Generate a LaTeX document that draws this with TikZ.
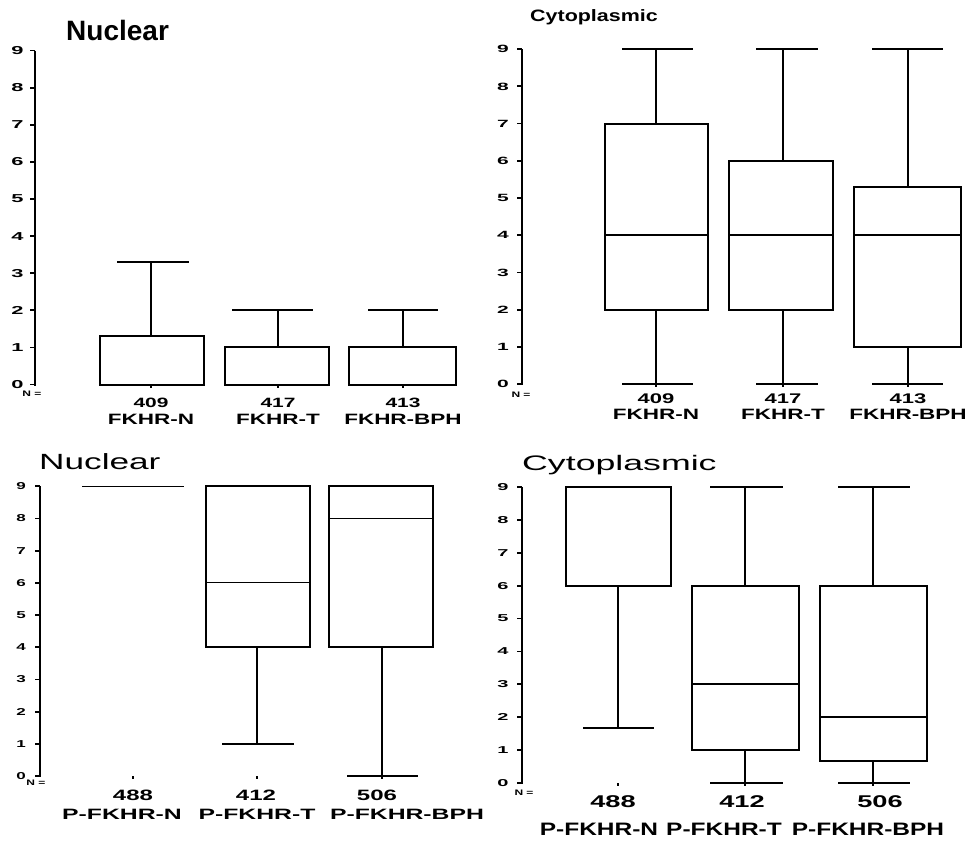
\documentclass[tikz,border=0pt]{standalone}
\usepackage{fontspec}
\setmainfont{Liberation Sans}
\newcommand\fs[1]{\fontsize{#1}{#1}\selectfont}
\newcommand\sx[2]{\scalebox{#1}[1]{#2}}
\newcommand\bpbox[4]{\draw[boxline] (#1,{\yz-#3*\dy}) rectangle (#2,{\yz-#4*\dy});}
\newcommand\bpmed[3]{\draw[medline] (#1,{\yz-#3*\dy}) -- (#2,{\yz-#3*\dy});}
\newcommand\bpwhisk[5]{\draw[whisk] (#1,{\yz-#2*\dy}) -- (#1,{\yz-#3*\dy});
  \draw[whisk] (#4,{\yz-#3*\dy}) -- (#5,{\yz-#3*\dy});}
\newcommand\cattick[1]{\draw[cattk] (#1,\yz) -- (#1,{\yz+3});}
\newcommand\yaxis[5]{% name, axis x, label x, font size, xscale
  \draw[axisline] (#2,{\yz-9*\dy}) -- (#2,{\yz+1});
  \foreach \v in {0,...,9}{
    \draw[tickline] ({#2-5},{\yz-\v*\dy}) -- (#2,{\yz-\v*\dy});
    \node[ticklab] (#1y\v) at (#3,{\yz-\v*\dy}) {\fs{#4}\sx{#5}{\v}};
  }}
\tikzset{
  boxline/.style={line width=2pt},
  whisk/.style={line width=2pt},
  medline/.style={line width=2pt},
  thinmed/.style={line width=1.3pt},
  axisline/.style={line width=2.2pt},
  tickline/.style={line width=1.8pt},
  cattk/.style={line width=1.5pt},
  ticklab/.style={inner sep=0pt, font=\bfseries},
  lab/.style={inner sep=0pt, anchor=base, font=\bfseries},
  ttl/.style={inner sep=0pt, anchor=base west},
  nlab/.style={inner sep=0pt, font=\bfseries}
}
\begin{document}
\begin{tikzpicture}[x=1pt,y=-1pt]
\fill[white] (0,0) rectangle (971,842);
\useasboundingbox (0,0) rectangle (971,842);

% ---------- Panel 1: Nuclear FKHR ----------
\def\yz{384.5}\def\dy{37.1}
\node[ttl, font=\bfseries\fs{28}] (t1) at (66,41) {Nuclear};
\yaxis{pa}{35}{17.5}{11.5}{1.9}
\bpbox{100}{204}{0}{1.3}
\bpwhisk{151}{1.3}{3.3}{117}{189}
\bpbox{225}{329}{0}{1}
\bpwhisk{278}{1}{2}{232}{313}
\bpbox{349}{456}{0}{1}
\bpwhisk{403}{1}{2}{368}{438}
\cattick{151}\cattick{278}\cattick{403}
\node[nlab] (n1) at (32,394) {\fs{8}\sx{1.5}{N =}};
\node[lab] (a1) at (151,407.5) {\fs{13.5}\sx{1.55}{409}};
\node[lab] (a2) at (278,407.5) {\fs{13.5}\sx{1.55}{417}};
\node[lab] (a3) at (403,407.5) {\fs{13.5}\sx{1.55}{413}};
\node[lab] (b1) at (151,424) {\fs{15}\sx{1.5}{FKHR-N}};
\node[lab] (b2) at (278,424) {\fs{15}\sx{1.5}{FKHR-T}};
\node[lab] (b3) at (403,424) {\fs{15}\sx{1.5}{FKHR-BPH}};

% ---------- Panel 2: Cytoplasmic FKHR ----------
\def\yz{384}\def\dy{37.2}
\node[ttl, font=\bfseries\fs{16.5}] (t2) at (530,22) {\sx{1.3}{Cytoplasmic}};
\yaxis{pb}{522}{503}{10.5}{2.0}
\bpbox{605}{708}{2}{7}
\bpmed{605}{708}{4}
\bpwhisk{656}{2}{0}{622}{693}
\bpwhisk{656}{7}{9}{622}{693}
\bpbox{729}{833}{2}{6}
\bpmed{729}{833}{4}
\bpwhisk{783}{2}{0}{756}{818}
\bpwhisk{783}{6}{9}{756}{818}
\bpbox{854}{961}{1}{5.3}
\bpmed{854}{961}{4}
\bpwhisk{908}{1}{0}{872}{943}
\bpwhisk{908}{5.3}{9}{872}{943}
\cattick{656}\cattick{783}\cattick{908}
\node[nlab] (n2) at (521,395) {\fs{8}\sx{1.5}{N =}};
\node[lab] (c1) at (656,403.5) {\fs{14}\sx{1.57}{409}};
\node[lab] (c2) at (783,403.5) {\fs{14}\sx{1.57}{417}};
\node[lab] (c3) at (908,403.5) {\fs{14}\sx{1.57}{413}};
\node[lab] (d1) at (656,419) {\fs{15}\sx{1.5}{FKHR-N}};
\node[lab] (d2) at (783,419) {\fs{15}\sx{1.5}{FKHR-T}};
\node[lab] (d3) at (908,419) {\fs{15}\sx{1.5}{FKHR-BPH}};

% ---------- Panel 3: Nuclear P-FKHR ----------
\def\yz{776}\def\dy{32.2}
\node[ttl, font=\fs{22}] (t3) at (39,469) {\sx{1.6}{Nuclear}};
\yaxis{pc}{40}{21}{10}{1.7}
\draw[thinmed] (82,{\yz-9*\dy}) -- (184,{\yz-9*\dy});
\bpbox{206}{310}{4}{9}
\draw[thinmed] (206,{\yz-6*\dy}) -- (310,{\yz-6*\dy});
\bpwhisk{257}{4}{1}{222}{294}
\bpbox{329}{433}{4}{9}
\draw[line width=1.6pt] (329,{\yz-8*\dy}) -- (433,{\yz-8*\dy});
\bpwhisk{382}{4}{0}{347}{418}
\cattick{133}\cattick{257}\cattick{382}
\node[nlab] (n3) at (36,783) {\fs{8}\sx{1.5}{N =}};
\node[lab] (e1) at (133,800.7) {\fs{15}\sx{1.6}{488}};
\node[lab] (e2) at (256,800.7) {\fs{15}\sx{1.6}{412}};
\node[lab] (e3) at (377,800.7) {\fs{15}\sx{1.6}{506}};
\node[lab] (f1) at (122,819) {\fs{15}\sx{1.65}{P-FKHR-N}};
\node[lab] (f2) at (257,819) {\fs{15}\sx{1.65}{P-FKHR-T}};
\node[lab] (f3) at (407,819) {\fs{15}\sx{1.65}{P-FKHR-BPH}};

% ---------- Panel 4: Cytoplasmic P-FKHR ----------
\def\yz{783}\def\dy{32.9}
\node[ttl, font=\fs{21}] (t4) at (522,470) {\sx{1.7}{Cytoplasmic}};
\yaxis{pd}{522}{503}{10}{2.0}
\bpbox{566}{671}{6}{9}
\bpwhisk{618}{6}{1.67}{583}{654}
\bpbox{692}{799}{1}{6}
\bpmed{692}{799}{3}
\bpwhisk{745}{1}{0}{710}{783}
\bpwhisk{745}{6}{9}{710}{783}
\bpbox{820}{927}{0.67}{6}
\bpmed{820}{927}{2}
\bpwhisk{873}{0.67}{0}{838}{910}
\bpwhisk{873}{6}{9}{838}{910}
\cattick{618}\cattick{745}\cattick{873}
\node[nlab] (n4) at (524,793) {\fs{8}\sx{1.5}{N =}};
\node[lab] (g1) at (613,807) {\fs{17}\sx{1.6}{488}};
\node[lab] (g2) at (742,807) {\fs{17}\sx{1.6}{412}};
\node[lab] (g3) at (880,807) {\fs{17}\sx{1.6}{506}};
\node[lab] (h1) at (599,835) {\fs{18}\sx{1.36}{P-FKHR-N}};
\node[lab] (h2) at (724,835) {\fs{18}\sx{1.36}{P-FKHR-T}};
\node[lab] (h3) at (868,835) {\fs{18}\sx{1.36}{P-FKHR-BPH}};
\end{tikzpicture}
\end{document}
